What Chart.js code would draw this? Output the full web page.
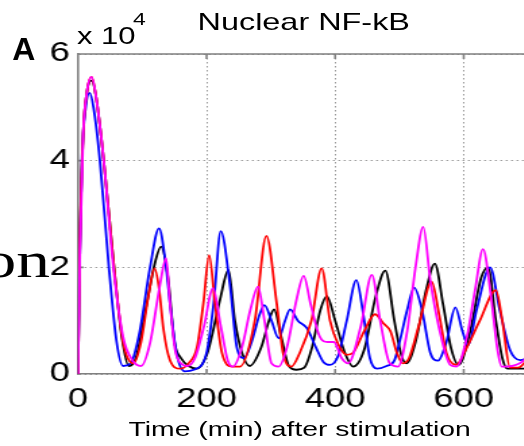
<!DOCTYPE html>
<html>
<head>
<meta charset="utf-8">
<script src="https://cdn.jsdelivr.net/npm/chart.js@4.4.1/dist/chart.umd.min.js"></script>
<style>
  html, body { margin: 0; padding: 0; background: #fff; overflow: hidden; }
  body { width: 524px; height: 446px; position: relative; }
  /* the reference is stretched sideways, so the whole figure is too */
  .stretch { position: absolute; left: 0; top: 0; width: 420px; height: 446px;
             transform: scaleX(1.35); transform-origin: 0 0; }
  canvas { position: absolute; left: 0; top: 0; }
  .txt { position: absolute; font-family: 'Liberation Sans', Arial, sans-serif;
         color: #000; line-height: 1; white-space: nowrap; }
</style>
</head>
<body>
<div class="stretch">
  <canvas id="nfkbChart" width="420" height="446"></canvas>
  <div class="txt" style="left:225px; top:10px; font-size:24px; transform:translateX(-50%);">Nuclear NF-kB</div>
  <div class="txt" style="left:9px; top:33px; font-size:32px; font-weight:bold; transform:scaleX(0.74); transform-origin:0 0;">A</div>
  <div class="txt" style="left:57px; top:25px; font-size:23px;">x 10</div>
  <div class="txt" style="left:98.5px; top:11px; font-size:17px;">4</div>
  <div class="txt" style="left:37px; top:235px; font-size:50px; font-family:'Liberation Serif', 'Times New Roman', serif; transform:translateX(-100%);">on</div>
  <div class="txt" style="left:222px; top:418px; font-size:21px; transform:translateX(-50%);">Time (min) after stimulation</div>
</div>
<script>
// ========== DATA (values in units of 10^4) ==========
const xTicks = [0, 200, 400, 600];
const yTicks = [0, 2, 4, 6];

const blackTime  = [0, 3, 8, 14, 21, 28, 40, 56, 68, 79, 90, 105, 120, 129, 140, 150, 160, 172, 185, 200, 208, 221, 234, 244, 255, 267, 285, 297, 305, 316, 328, 340, 352, 364, 377, 387, 400, 415, 428, 445, 463, 478, 492, 503, 511, 525, 542, 555, 568, 580, 592, 610, 627, 638, 650, 660, 668, 700];
const blackValue = [0, 2.4, 4.5, 5.3, 5.5, 5.2, 4.0, 2.0, 0.7, 0.15, 0.3, 1.2, 2.1, 2.39, 1.8, 0.6, 0.3, 0.15, 0.1, 0.35, 0.7, 1.4, 1.95, 1.0, 0.4, 0.15, 0.5, 1.0, 1.21, 0.7, 0.15, 0.08, 0.12, 0.5, 1.2, 1.46, 1.0, 0.4, 0.14, 0.45, 1.45, 1.94, 1.0, 0.35, 0.2, 0.6, 1.6, 2.07, 1.3, 0.5, 0.17, 0.8, 1.8, 2.0, 1.0, 0.3, 0.1, 0.1];

const blueTime  = [0, 2, 6, 12, 18, 24, 34, 48, 60, 70, 82, 96, 112, 126, 136, 143, 153, 166, 180, 200, 211, 222, 236, 247, 258, 270, 282, 290, 301, 312, 322, 330, 342, 356, 370, 382, 392, 405, 418, 433, 444, 454, 465, 480, 492, 501, 512, 523, 535, 548, 560, 573, 587, 598, 607, 620, 641, 656, 672, 688, 700];
const blueValue = [0, 1.8, 4.0, 5.0, 5.27, 5.0, 4.0, 2.0, 0.6, 0.15, 0.2, 0.8, 2.0, 2.73, 2.1, 1.33, 0.4, 0.05, 0.08, 0.4, 1.33, 2.68, 1.7, 0.5, 0.3, 0.6, 1.1, 1.29, 1.0, 0.67, 1.0, 1.21, 1.0, 0.86, 0.5, 0.22, 0.17, 0.35, 1.0, 1.76, 1.1, 0.3, 0.1, 0.15, 0.25, 0.64, 1.2, 1.62, 1.2, 0.4, 0.25, 0.6, 1.25, 0.8, 0.54, 1.2, 2.0, 1.2, 0.45, 0.26, 0.3];

const redTime  = [0, 3, 8, 14, 21, 28, 40, 56, 70, 86, 98, 110, 119, 126, 133, 143, 159, 172, 185, 195, 204, 213, 224, 240, 252, 275, 293, 309, 319, 332, 345, 363, 379, 392, 405, 418, 428, 445, 462, 475, 486, 496, 505, 515, 530, 550, 562, 573, 588, 605, 625, 650, 660, 672, 685, 694, 700];
const redValue = [0, 2.5, 4.5, 5.3, 5.57, 5.2, 4.0, 2.0, 0.6, 0.2, 0.6, 1.5, 1.98, 1.6, 0.83, 0.26, 0.1, 0.2, 0.5, 1.33, 2.23, 1.33, 0.39, 0.14, 0.14, 1.0, 2.59, 1.33, 0.39, 0.14, 0.4, 1.0, 1.98, 1.0, 0.55, 0.36, 0.4, 0.8, 1.12, 0.95, 0.8, 0.4, 0.2, 0.3, 0.9, 1.73, 1.1, 0.4, 0.17, 0.5, 1.0, 1.57, 1.0, 0.12, 0.12, 0.2, 0.3];

const magentaTime  = [0, 3, 8, 14, 21, 28, 40, 55, 70, 85, 98, 112, 127, 137, 143, 151, 160, 170, 182, 196, 210, 222, 233, 241, 255, 268, 280, 290, 301, 312, 325, 340, 351, 362, 376, 388, 398, 410, 420, 440, 457, 470, 485, 498, 512, 525, 537, 548, 561, 579, 589, 605, 618, 630, 642, 652, 659, 675, 694, 700];
const magentaValue = [0, 2.3, 4.5, 5.3, 5.57, 5.2, 4.0, 2.0, 0.7, 0.25, 0.15, 0.58, 1.64, 2.17, 1.33, 0.45, 0.2, 0.15, 0.3, 0.9, 1.61, 0.9, 0.25, 0.14, 0.5, 1.2, 1.64, 1.0, 0.2, 0.14, 0.5, 1.4, 1.84, 1.3, 0.7, 0.6, 0.6, 0.3, 0.2, 0.9, 1.86, 1.0, 0.2, 0.14, 0.8, 2.0, 2.76, 1.76, 0.9, 0.17, 0.14, 0.7, 1.6, 2.34, 1.5, 0.5, 0.14, 0.15, 0.26, 0.35];

// ========== HELPERS ==========
function toPoints(times, values) {
    return times.map((t, i) => ({ x: t, y: values[i] }));
}

function series(times, values, color) {
    return {
        data: toPoints(times, values),
        borderColor: color,
        borderWidth: 1.8,
        pointRadius: 0,
        fill: false,
        cubicInterpolationMode: 'monotone'
    };
}

const axisGray = '#808080';
const gridGray = '#9a9a9a';

// box top line and inward tick marks, like matlab axes
const boxPlugin = {
    id: 'box',
    beforeDatasetsDraw(chart) {
        const { ctx, chartArea } = chart;
        const xs = chart.scales.x, ys = chart.scales.y;
        ctx.save();
        ctx.strokeStyle = axisGray;
        ctx.lineWidth = 1.6;
        ctx.beginPath();
        ctx.moveTo(chartArea.left, chartArea.top);
        ctx.lineTo(chartArea.right, chartArea.top);
        xTicks.slice(1).forEach(v => {
            const px = xs.getPixelForValue(v);
            ctx.moveTo(px, chartArea.bottom);
            ctx.lineTo(px, chartArea.bottom - 5);
            ctx.moveTo(px, chartArea.top);
            ctx.lineTo(px, chartArea.top + 5);
        });
        yTicks.slice(1, -1).forEach(v => {
            const py = ys.getPixelForValue(v);
            ctx.moveTo(chartArea.left, py);
            ctx.lineTo(chartArea.left + 4, py);
        });
        ctx.stroke();
        ctx.restore();
    }
};

new Chart(document.getElementById('nfkbChart'), {
    type: 'line',
    data: {
        datasets: [
            series(magentaTime, magentaValue, '#ff00ff'),
            series(redTime, redValue, '#ff0000'),
            series(blueTime, blueValue, '#0000ff'),
            series(blackTime, blackValue, '#000000')
        ]
    },
    options: {
        responsive: false,
        animation: false,
        layout: { padding: { left: 0, right: 28.9, top: 54, bottom: 0 } },
        plugins: {
            legend: { display: false },
            tooltip: { enabled: false }
        },
        scales: {
            x: {
                type: 'linear',
                min: 0,
                max: 700,
                afterBuildTicks: scale => { scale.ticks = xTicks.map(v => ({ value: v })); },
                afterFit: scale => { scale.height = 72; },
                ticks: {
                    autoSkip: false,
                    maxRotation: 0,
                    padding: 9,
                    color: '#000',
                    font: { family: "'Liberation Sans', Arial, sans-serif", size: 27 }
                },
                grid: { color: gridGray, lineWidth: 1, drawTicks: false },
                border: { color: axisGray, width: 1.6, dash: [1.5, 2.5] }
            },
            y: {
                type: 'linear',
                min: 0,
                max: 6,
                afterBuildTicks: scale => { scale.ticks = yTicks.map(v => ({ value: v })); },
                afterFit: scale => { scale.width = 57.8; },
                ticks: {
                    autoSkip: false,
                    padding: 6,
                    color: '#000',
                    font: { family: "'Liberation Sans', Arial, sans-serif", size: 27 }
                },
                grid: { color: gridGray, lineWidth: 1, drawTicks: false },
                border: { color: axisGray, width: 1.6, dash: [1.5, 2.5] }
            }
        }
    },
    plugins: [boxPlugin]
});
</script>
</body>
</html>
